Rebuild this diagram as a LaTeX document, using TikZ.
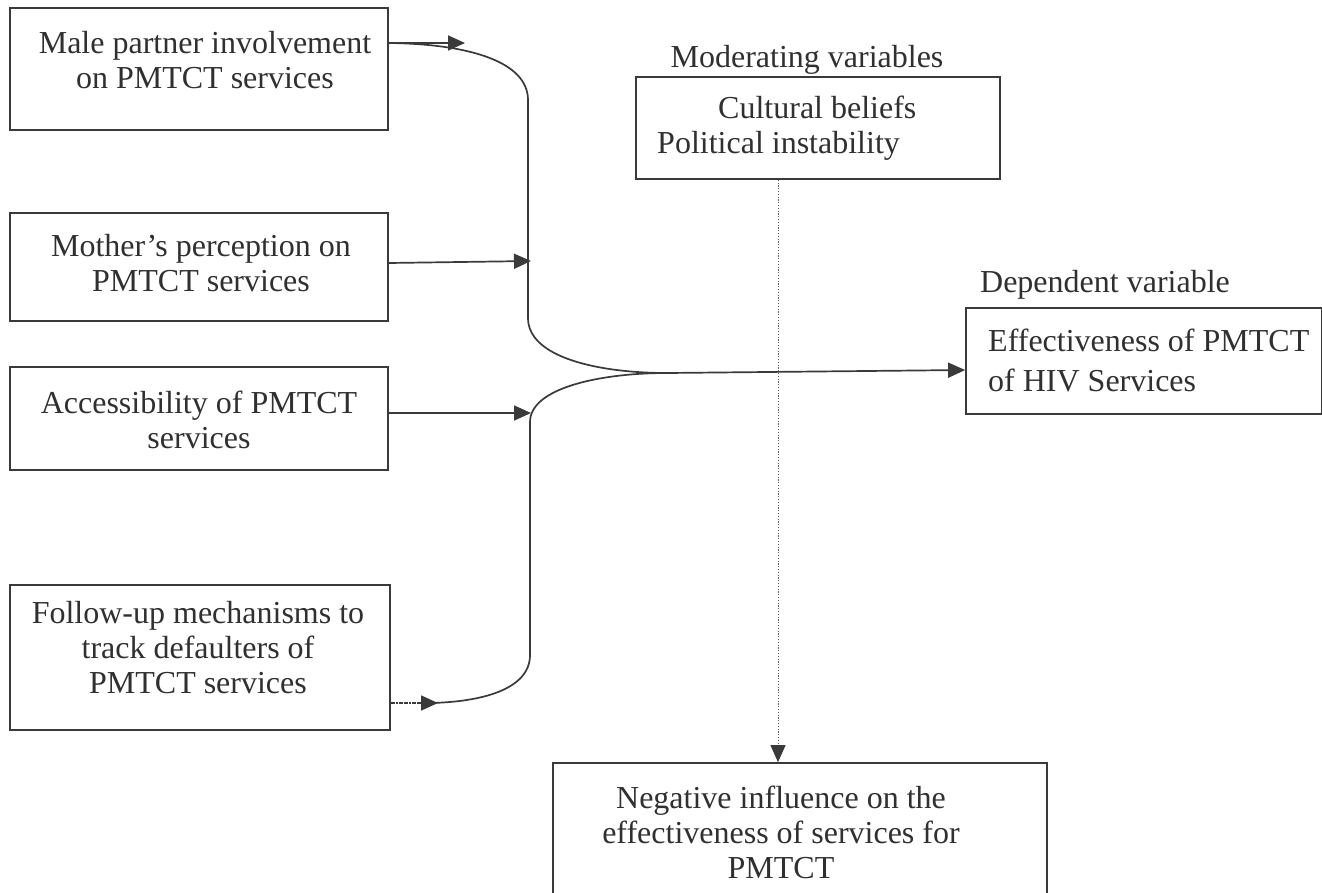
\documentclass[tikz,border=0pt]{standalone}
\usepackage{fontspec}
\setmainfont{Liberation Serif}
\usetikzlibrary{arrows.meta,calc}
\definecolor{ink}{HTML}{3A3A3A}
\definecolor{txt}{HTML}{303030}
\begin{document}
\begin{tikzpicture}[x=1pt,y=-1pt,
  box/.style={draw=ink,line width=1.7pt,rectangle,inner sep=0pt},
  txtnode/.style={inner sep=0pt,text=txt,font=\fontsize{32}{35}\selectfont},
  conn/.style={draw=ink,line width=1.7pt},
  arr/.style={draw=ink,line width=1.7pt,-{Triangle[length=17pt,width=15pt]}},
  dotl/.style={draw=ink!80,line width=1pt,dash pattern=on 1.2pt off 1.6pt,-{Triangle[length=17pt,width=15pt,color=ink]}}]
\useasboundingbox (0,0) rectangle (1322,892);
\fill[white] (0,0) rectangle (1322,892);

% boxes
\node[box,minimum width=378pt,minimum height=122pt] (b1) at (199,69) {};
\node[box,minimum width=378pt,minimum height=108pt] (b2) at (199,267) {};
\node[box,minimum width=378pt,minimum height=103pt] (b3) at (199,418.5) {};
\node[box,minimum width=380pt,minimum height=145pt] (b4) at (200,657.5) {};
\node[box,minimum width=364pt,minimum height=102pt] (mod) at (818,128) {};
\node[box,minimum width=356pt,minimum height=106pt] (dep) at (1144,361) {};
\node[box,minimum width=494pt,minimum height=150pt] (bot) at (800,838) {};

% texts
\node[txtnode,align=center] (t1) at (205,60) {Male partner involvement\\on PMTCT services};
\node[txtnode,align=center] (t2) at (201,263) {Mother’s perception on\\PMTCT services};
\node[txtnode,align=center] (t3) at (199,420) {Accessibility of PMTCT\\services};
\node[txtnode,align=center] (t4) at (198,648) {Follow-up mechanisms to\\track defaulters of\\PMTCT services};
\node[txtnode,align=left,anchor=west] (t5) at (657,128) {\hspace*{61pt}Cultural beliefs\\Political instability};
\node[txtnode,align=left,anchor=west] (t6) at (988,360) {Effectiveness of PMTCT\\[5pt]of HIV Services};
\node[txtnode,align=center] (t7) at (781,832) {Negative influence on the\\effectiveness of services for\\PMTCT};
\node[txtnode] (l1) at (807,60) {Moderating variables};
\node[txtnode] (l2) at (1105,285) {Dependent variable};

% connector coordinates
\coordinate (m) at (667,373);
\coordinate (a1) at (465,43);
\coordinate (a2) at (531,261);
\coordinate (a3) at (531,413);
\coordinate (a4) at (438,703);
\coordinate (dx) at (778,0);

% bracket
\draw[conn] (b1.east |- a1) .. controls (470,44) and (528,62) .. (528,100)
  -- (528,318) .. controls (528,358) and (600,373) .. (m);
\draw[conn] (m) .. controls (600,373) and (530,388) .. (530,422)
  -- (530,655) .. controls (530,690) and (480,702) .. (430,703);

% arrows
\draw[arr] (b1.east |- a1) -- (a1);
\draw[arr] (b2.east |- 0,263) -- (a2);
\draw[arr] (b3.east |- a3) -- (a3);
\draw[arr,dash pattern=on 2pt off 0.6pt] (b4.east |- a4) -- (a4);
\draw[arr] (m) -- (dep.west |- 0,370);
\draw[dotl] (mod.south -| dx) -- (bot.north -| dx);
\end{tikzpicture}
\end{document}
